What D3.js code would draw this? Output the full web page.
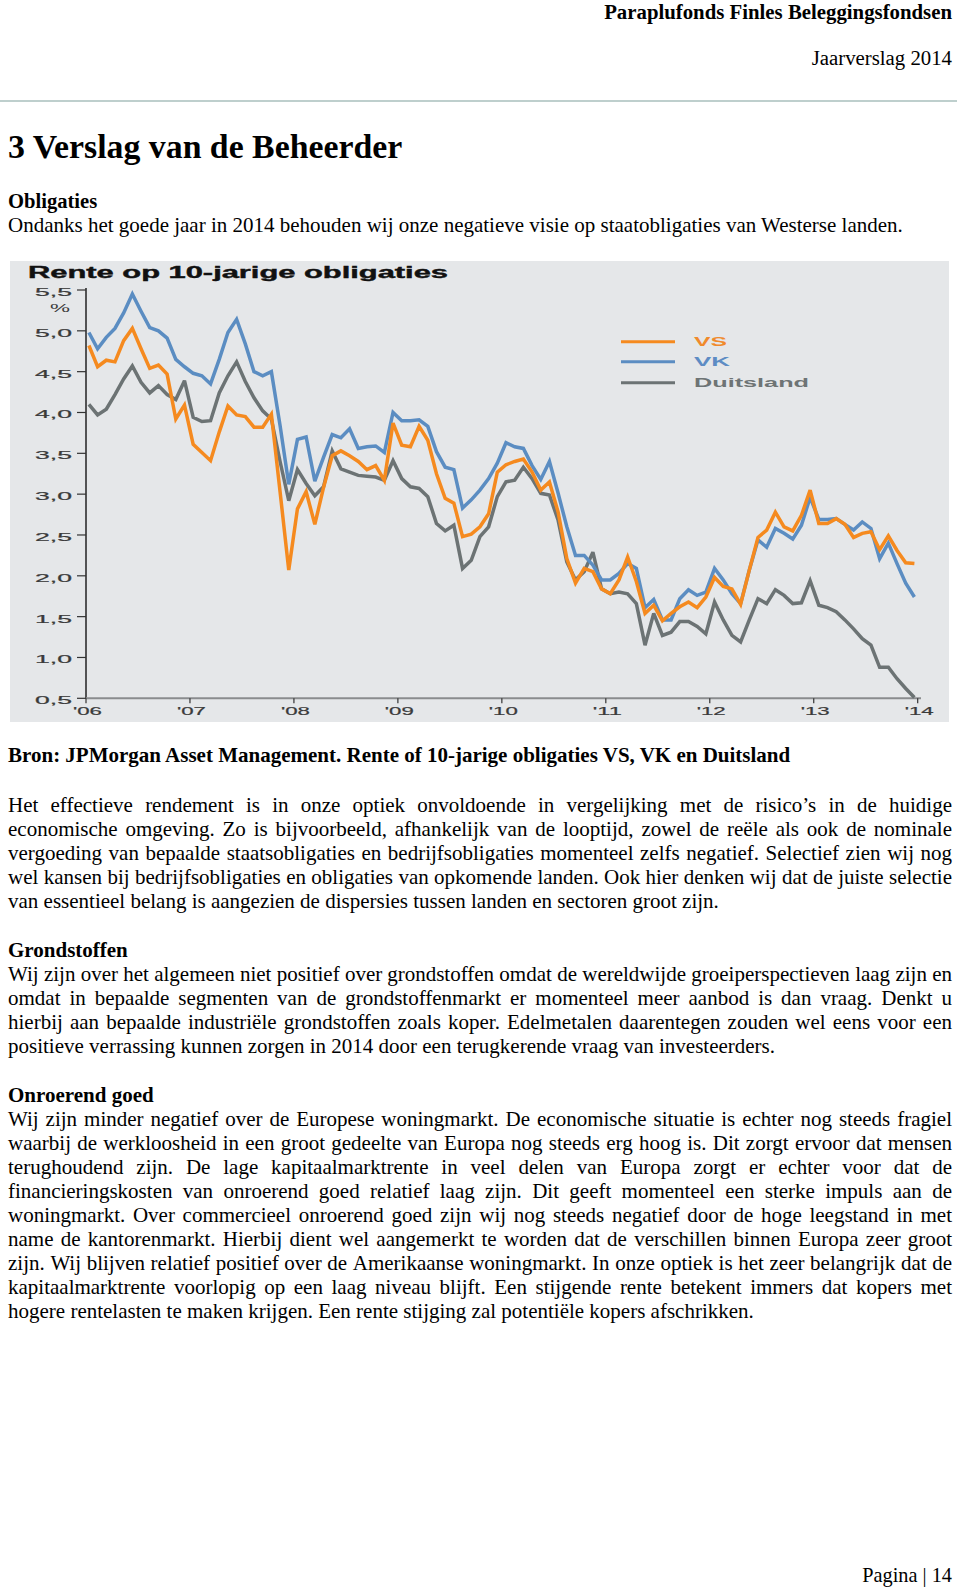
<!DOCTYPE html>
<html><head><meta charset="utf-8">
<script src="https://cdn.jsdelivr.net/npm/d3@7"></script>
<style>body{margin:0;background:#fff}</style>
</head><body><svg id="page" width="960" height="1588"></svg>
<script>
// ---------- DATA ----------
const seriesNames = ["VS", "VK", "Duitsland"];
const vsValues = [4.82,4.56,4.64,4.62,4.88,5.03,4.78,4.54,4.58,4.47,3.92,4.09,3.61,3.51,3.41,3.76,4.08,3.97,3.95,3.82,3.82,3.98,3.03,2.07,2.82,3.03,2.63,3.08,3.47,3.53,3.47,3.40,3.30,3.35,3.17,3.87,3.60,3.58,3.83,3.66,3.25,2.95,2.89,2.48,2.51,2.60,2.76,3.27,3.36,3.40,3.43,3.27,3.05,3.15,2.78,2.21,1.91,2.09,2.05,1.84,1.78,1.95,2.23,1.93,1.54,1.64,1.45,1.54,1.62,1.68,1.61,1.74,1.98,1.87,1.84,1.65,2.07,2.47,2.56,2.78,2.60,2.55,2.74,3.05,2.64,2.64,2.70,2.63,2.47,2.52,2.54,2.32,2.49,2.31,2.16,2.15];
const vkValues = [4.98,4.78,4.92,5.03,5.22,5.45,5.24,5.04,5.00,4.91,4.65,4.56,4.48,4.45,4.35,4.65,4.98,5.14,4.84,4.50,4.45,4.50,3.84,3.12,3.67,3.70,3.16,3.45,3.73,3.69,3.80,3.56,3.58,3.59,3.51,4.00,3.90,3.90,3.91,3.83,3.52,3.33,3.30,2.83,2.93,3.05,3.19,3.38,3.63,3.58,3.56,3.35,3.18,3.40,3.01,2.60,2.25,2.25,2.13,1.95,1.95,2.03,2.15,2.09,1.61,1.71,1.46,1.46,1.72,1.83,1.76,1.80,2.09,1.95,1.78,1.66,2.07,2.44,2.35,2.58,2.52,2.45,2.62,2.96,2.69,2.69,2.70,2.63,2.56,2.66,2.58,2.21,2.40,2.15,1.91,1.74];
const deValues = [4.10,3.97,4.04,4.22,4.41,4.57,4.37,4.24,4.33,4.22,4.16,4.39,3.94,3.89,3.90,4.24,4.45,4.62,4.38,4.18,4.02,3.92,3.40,2.92,3.30,3.13,2.98,3.09,3.53,3.31,3.27,3.23,3.22,3.21,3.17,3.41,3.19,3.09,3.07,2.97,2.64,2.55,2.62,2.09,2.19,2.48,2.60,2.97,3.15,3.17,3.33,3.19,3.01,2.99,2.68,2.17,1.95,2.05,2.29,1.84,1.78,1.80,1.78,1.66,1.15,1.54,1.27,1.31,1.44,1.44,1.38,1.29,1.68,1.46,1.27,1.19,1.46,1.72,1.66,1.83,1.76,1.66,1.67,1.94,1.64,1.61,1.56,1.46,1.35,1.23,1.15,0.88,0.88,0.74,0.62,0.51];
const yTickValues = [0.5,1.0,1.5,2.0,2.5,3.0,3.5,4.0,4.5,5.0,5.5];
const yTickLabels = ["0,5","1,0","1,5","2,0","2,5","3,0","3,5","4,0","4,5","5,0","5,5"];
const xTickLabels = ["'06","'07","'08","'09","'10","'11","'12","'13","'14"];

// ---------- PAGE ----------
const svg = d3.select("#page");
svg.append("rect").attr("width", 960).attr("height", 1588).attr("fill", "#fff");
const serif = "'Liberation Serif','Times New Roman',serif";
const sans = "'Liberation Sans',Arial,sans-serif";

svg.append("text").attr("x", 952).attr("y", 18.5).attr("text-anchor", "end")
  .attr("font-family", serif).attr("font-weight", "bold").attr("font-size", 20.8)
  .attr("fill", "#000").text("Paraplufonds Finles Beleggingsfondsen");
svg.append("text").attr("x", 952).attr("y", 65).attr("text-anchor", "end")
  .attr("font-family", serif).attr("font-size", 20.8).attr("fill", "#000").text("Jaarverslag 2014");
svg.append("line").attr("x1", 0).attr("x2", 957).attr("y1", 101).attr("y2", 101)
  .attr("stroke", "#a9bfbd").attr("stroke-width", 1.5);
svg.append("text").attr("x", 8).attr("y", 158)
  .attr("font-family", serif).attr("font-weight", "bold").attr("font-size", 33.8).text("3 Verslag van de Beheerder");

const L = 8, R = 952, FS = 21;
function line(text, y, opts = {}) {
  const t = svg.append("text").attr("y", y).attr("font-family", serif)
    .attr("font-size", opts.size || FS).attr("font-weight", opts.bold ? "bold" : "normal").attr("fill", "#000");
  if (!opts.justify) { t.attr("x", L).text(text); return; }
  const words = text.split(" ");
  const spans = words.map(w => t.append("tspan").text(w));
  const widths = spans.map(s => s.node().getComputedTextLength());
  const gap = (R - L - d3.sum(widths)) / (words.length - 1);
  let x = L;
  spans.forEach((s, i) => { s.attr("x", x); x += widths[i] + gap; });
}
line("Obligaties", 208, {bold: true, size: 20.6});
line("Ondanks het goede jaar in 2014 behouden wij onze negatieve visie op staatobligaties van Westerse landen.", 232);
line("Bron: JPMorgan Asset Management. Rente of 10-jarige obligaties VS, VK en Duitsland", 761.5, {bold: true});

const para1 = [
  "Het effectieve rendement is in onze optiek onvoldoende in vergelijking met de risico’s in de huidige",
  "economische omgeving. Zo is bijvoorbeeld, afhankelijk van de looptijd, zowel de reële als ook de nominale",
  "vergoeding van bepaalde staatsobligaties en bedrijfsobligaties momenteel zelfs negatief. Selectief zien wij nog",
  "wel kansen bij bedrijfsobligaties en obligaties van opkomende landen. Ook hier denken wij dat de juiste selectie",
  "van essentieel belang is aangezien de dispersies tussen landen en sectoren groot zijn."];
const para2 = [
  "Wij zijn over het algemeen niet positief over grondstoffen omdat de wereldwijde groeiperspectieven laag zijn en",
  "omdat in bepaalde segmenten van de grondstoffenmarkt er momenteel meer aanbod is dan vraag. Denkt u",
  "hierbij aan bepaalde industriële grondstoffen zoals koper. Edelmetalen daarentegen zouden wel eens voor een",
  "positieve verrassing kunnen zorgen in 2014 door een terugkerende vraag van investeerders."];
const para3 = [
  "Wij zijn minder negatief over de Europese woningmarkt. De economische situatie is echter nog steeds fragiel",
  "waarbij de werkloosheid in een groot gedeelte van Europa nog steeds erg hoog is. Dit zorgt ervoor dat mensen",
  "terughoudend zijn. De lage kapitaalmarktrente in veel delen van Europa zorgt er echter voor dat de",
  "financieringskosten van onroerend goed relatief laag zijn. Dit geeft momenteel een sterke impuls aan de",
  "woningmarkt. Over commercieel onroerend goed zijn wij nog steeds negatief door de hoge leegstand in met",
  "name de kantorenmarkt. Hierbij dient wel aangemerkt te worden dat de verschillen binnen Europa zeer groot",
  "zijn. Wij blijven relatief positief over de Amerikaanse woningmarkt. In onze optiek is het zeer belangrijk dat de",
  "kapitaalmarktrente voorlopig op een laag niveau blijft. Een stijgende rente betekent immers dat kopers met",
  "hogere rentelasten te maken krijgen. Een rente stijging zal potentiële kopers afschrikken."];
const LH = 24;
function para(lines, y0) {
  lines.forEach((t, i) => line(t, y0 + i * LH, {justify: i < lines.length - 1}));
}
para(para1, 811.5);
line("Grondstoffen", 957, {bold: true});
para(para2, 981);
line("Onroerend goed", 1102, {bold: true});
para(para3, 1126);
svg.append("text").attr("x", 952).attr("y", 1582).attr("text-anchor", "end")
  .attr("font-family", serif).attr("font-size", 20.3).text("Pagina | 14");

// ---------- CHART ----------
const chart = svg.append("g");
chart.append("rect").attr("x", 10).attr("y", 261).attr("width", 939).attr("height", 461).attr("fill", "#e5e7e9");

const x = d3.scaleLinear().domain([0, vsValues.length - 1]).range([88.9, 914.4]);
const xYear = d3.scaleLinear().domain([0, xTickLabels.length - 1]).range([86, 917.7]);
const y = d3.scaleLinear().domain([0.5, 5.5]).range([698.3, 290]);

chart.append("text").attr("x", 28).attr("y", 277.5).attr("font-family", sans).attr("font-weight", "bold")
  .attr("font-size", 16).attr("fill", "#111").attr("stroke", "#111").attr("stroke-width", 0.4)
  .attr("textLength", 420).attr("lengthAdjust", "spacingAndGlyphs")
  .text("Rente op 10-jarige obligaties");

// y axis
chart.append("line").attr("x1", 86).attr("x2", 86).attr("y1", y(5.5) - 2).attr("y2", y(0.5))
  .attr("stroke", "#222").attr("stroke-width", 1.5);
yTickValues.forEach((v, i) => {
  chart.append("line").attr("x1", 77).attr("x2", 86).attr("y1", y(v)).attr("y2", y(v))
    .attr("stroke", "#333").attr("stroke-width", 1.2);
  chart.append("text").attr("x", 35).attr("y", y(v) + 6).attr("font-family", sans).attr("font-size", 10.5)
    .attr("fill", "#3a3a3a").attr("stroke", "#3a3a3a").attr("stroke-width", 0.2)
    .attr("textLength", 37).attr("lengthAdjust", "spacingAndGlyphs").text(yTickLabels[i]);
});
chart.append("text").attr("x", 50).attr("y", 312).attr("font-family", sans).attr("font-size", 10.5)
  .attr("fill", "#3a3a3a").attr("textLength", 20).attr("lengthAdjust", "spacingAndGlyphs").text("%");

// x axis
chart.append("line").attr("x1", 86).attr("x2", 921).attr("y1", y(0.5)).attr("y2", y(0.5))
  .attr("stroke", "#8a8c8e").attr("stroke-width", 2);
xTickLabels.forEach((lab, i) => {
  const xx = xYear(i);
  chart.append("line").attr("x1", xx).attr("x2", xx).attr("y1", y(0.5)).attr("y2", y(0.5) + 5)
    .attr("stroke", "#333").attr("stroke-width", 1.2);
  chart.append("text").attr("x", xx - 13).attr("y", 715).attr("font-family", sans).attr("font-size", 11)
    .attr("fill", "#3a3a3a").attr("stroke", "#3a3a3a").attr("stroke-width", 0.2)
    .attr("textLength", 29).attr("lengthAdjust", "spacingAndGlyphs").text(lab);
});

const colors = ["#f58a1f", "#5b8dc2", "#6c7374"];
const textColors = ["#f08a2c", "#5d8cc4", "#6e7475"];
const order = [2, 1, 0];
const lineGen = d3.line().x((d, i) => x(i)).y(d => y(d));
[deValues, vkValues, vsValues].forEach((vals, k) => {
  const ci = order[k];
  chart.append("path").datum(vals).attr("d", lineGen).attr("fill", "none")
    .attr("stroke", colors[ci]).attr("stroke-width", 3.5).attr("stroke-linejoin", "miter").attr("stroke-miterlimit", 3);
});

// legend
const legY = [341.7, 361.7, 382.7];
const legW = [33, 36, 115];
seriesNames.forEach((n, i) => {
  chart.append("line").attr("x1", 621).attr("x2", 675).attr("y1", legY[i]).attr("y2", legY[i])
    .attr("stroke", colors[i]).attr("stroke-width", 3);
  chart.append("text").attr("x", 694).attr("y", legY[i] + 4.5).attr("font-family", sans).attr("font-weight", "bold")
    .attr("font-size", 12.5).attr("fill", textColors[i]).attr("textLength", legW[i])
    .attr("lengthAdjust", "spacingAndGlyphs").text(n);
});
</script></body></html>
